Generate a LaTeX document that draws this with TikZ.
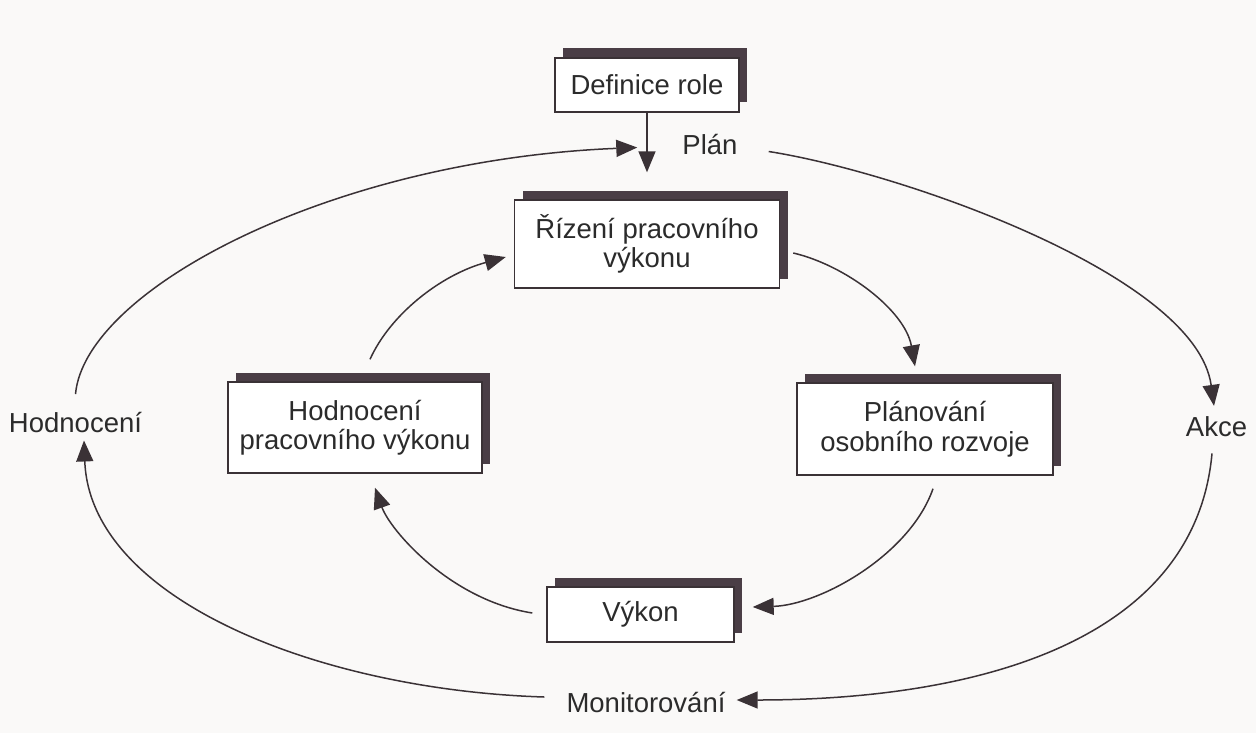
\documentclass[tikz,border=0pt]{standalone}
\usepackage{fontspec}
\setmainfont{Liberation Sans}
\usetikzlibrary{arrows.meta,shadows}
\definecolor{ink}{HTML}{3A3236}
\definecolor{shad}{HTML}{4A3E46}
\definecolor{paper}{HTML}{FAF9F8}
\definecolor{txt}{HTML}{2B2B2B}
\begin{document}
\begin{tikzpicture}[x=1pt,y=-1pt,
  box/.style={draw=ink, line width=1.4pt, fill=white, inner sep=0pt, align=center,
    font=\fontsize{27.5}{29.5}\selectfont, text=txt,
    drop shadow={shadow xshift=8pt, shadow yshift=9.5pt, fill=shad, opacity=1}},
  lbl/.style={inner sep=0pt, font=\fontsize{27.5}{29.5}\selectfont, text=txt, anchor=base},
  arr/.style={draw=ink, line width=1.5pt, -{Triangle[length=21pt,width=17pt]}}]
\fill[paper] (0,0) rectangle (1256,733);
\useasboundingbox (0,0) rectangle (1256,733);

\node[box, minimum width=184pt, minimum height=54pt] (def) at (647,85) {Definice role};
\node[box, minimum width=265pt, minimum height=88pt] (riz) at (647,244) {Řízení pracovního\\výkonu};
\node[box, minimum width=254pt, minimum height=91pt] (hod) at (355,427.5) {Hodnocení\\pracovního výkonu};
\node[box, minimum width=256pt, minimum height=92pt] (plan) at (925,429) {Plánování\\osobního rozvoje};
\node[box, minimum width=187pt, minimum height=55pt] (vyk) at (640.5,614.5) {Výkon};

\node[lbl] (planl) at (710,155) {Plán};
\node[lbl] (akce) at (1216.5,436) {Akce};
\node[lbl] (hodl) at (75.5,432) {Hodnocení};
\node[lbl] (monl) at (646,712) {Monitorování};

\draw[arr] (def.south) -- ([yshift=27pt]riz.north);

\draw[arr] ([yshift=17.5pt]hodl.north) .. controls (85,290) and (330,160) .. ([xshift=-45pt,yshift=-2.5pt]planl.west);
\draw[arr] ([xshift=31pt,yshift=-6.5pt]planl.east) .. controls (900,172) and (1196,275) .. ([xshift=-2.5pt,yshift=10pt]akce.north);
\draw[arr] ([xshift=-4.5pt,yshift=-17pt]akce.south) .. controls (1195,640) and (980,700) .. ([xshift=11pt,yshift=2pt]monl.east);
\draw[arr] ([xshift=-22pt,yshift=5pt]monl.west) .. controls (320,690) and (90,600) .. ([xshift=8.5pt,yshift=-8pt]hodl.south);

\draw[arr] ([xshift=13pt,yshift=-9pt]riz.east) .. controls (845,265) and (905,310) .. ([xshift=-10pt,yshift=16pt]plan.north);
\draw[arr] ([xshift=8pt,yshift=-13pt]plan.south) .. controls (910,555) and (820,605) .. ([xshift=18pt,yshift=7.5pt]vyk.east);
\draw[arr] ([xshift=-14pt,yshift=1.5pt]vyk.west) .. controls (450,600) and (390,530) .. ([xshift=20pt,yshift=-14pt]hod.south);
\draw[arr] ([xshift=15pt,yshift=22pt]hod.north) .. controls (390,315) and (440,275) .. ([xshift=-8pt,yshift=-13pt]riz.west);
\end{tikzpicture}
\end{document}
